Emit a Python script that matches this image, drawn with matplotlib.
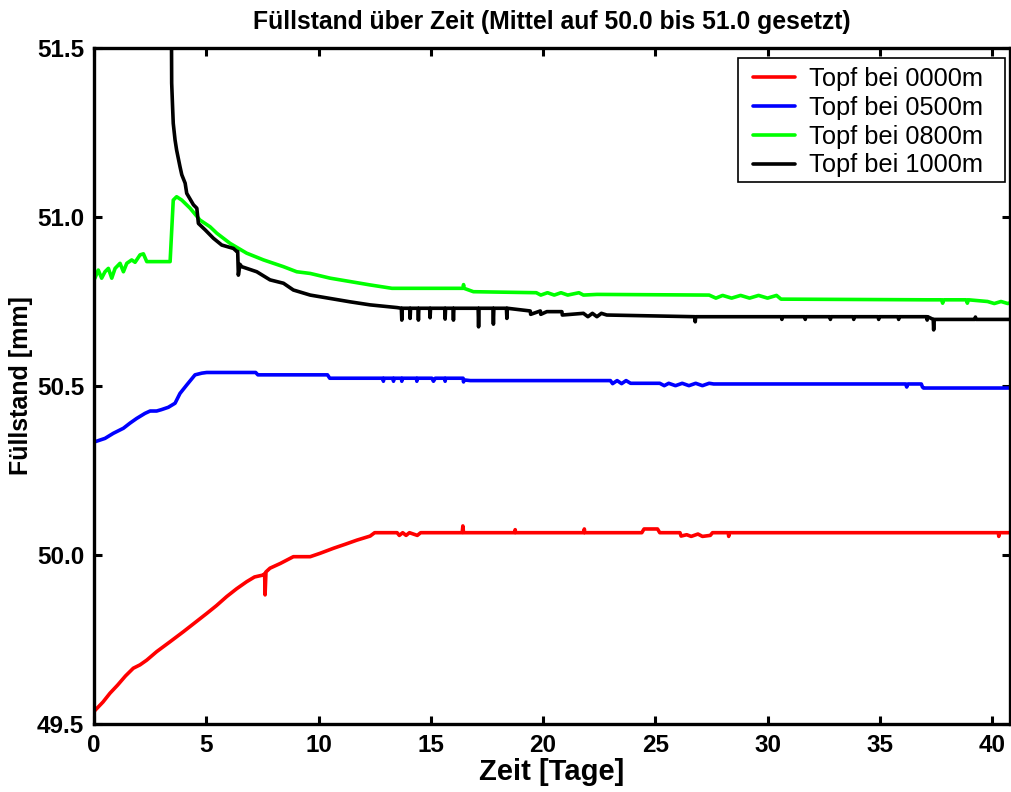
import numpy as np
import matplotlib
matplotlib.use('Agg')
import matplotlib.pyplot as plt
from matplotlib.patches import Rectangle

plt.rcParams['font.family'] = ['Liberation Sans', 'DejaVu Sans']

# Topf bei 0000m
red_x = [0.00, 0.04, 0.40, 0.71, 1.05, 1.40, 1.75, 2.05, 2.35, 2.79, 3.40, 3.98, 4.50, 5.02,
         5.45, 5.91, 6.35, 6.80, 7.15, 7.55, 7.60, 7.62, 7.66, 7.84, 8.30, 8.88, 9.63, 10.07,
         10.67, 11.20, 11.71, 12.30, 12.50, 13.50, 13.60, 13.75, 13.90, 14.05, 14.40, 14.55,
         16.40, 16.43, 16.46, 18.74, 18.76, 18.78, 21.82, 21.84, 21.86, 24.40, 24.50, 25.10,
         25.20, 26.10, 26.15, 26.40, 26.60, 26.90, 27.10, 27.45, 27.55, 28.25, 28.27, 28.30,
         40.28, 40.30, 40.33, 41.00]
red_y = [49.535, 49.540, 49.565, 49.591, 49.615, 49.642, 49.665, 49.675, 49.689, 49.714,
         49.744, 49.773, 49.800, 49.827, 49.850, 49.877, 49.900, 49.921, 49.935, 49.941,
         49.945, 49.882, 49.950, 49.961, 49.975, 49.995, 49.995, 50.005, 50.020, 50.032,
         50.044, 50.056, 50.066, 50.066, 50.058, 50.066, 50.058, 50.066, 50.058, 50.066,
         50.066, 50.086, 50.066, 50.066, 50.075, 50.066, 50.066, 50.077, 50.066, 50.066,
         50.077, 50.077, 50.066, 50.066, 50.056, 50.060, 50.055, 50.062, 50.055, 50.058,
         50.066, 50.066, 50.055, 50.066, 50.066, 50.055, 50.066, 50.066]

# Topf bei 0500m
blue_x = [0.00, 0.04, 0.49, 0.86, 1.31, 1.60, 1.90, 2.27, 2.50, 2.79, 3.00, 3.31, 3.61,
          3.83, 4.13, 4.50, 4.80, 5.02, 7.20, 7.30, 10.40, 10.50, 12.87, 12.89, 12.91,
          13.32, 13.34, 13.36, 13.69, 13.71, 13.73, 14.36, 14.38, 14.40, 15.05, 15.12,
          15.20, 15.62, 15.64, 15.66, 16.44, 16.46, 16.48, 16.76, 23.00, 23.10, 23.30,
          23.50, 23.70, 23.90, 25.20, 25.40, 25.60, 25.90, 26.20, 26.50, 26.80, 27.10,
          27.40, 27.60, 36.15, 36.20, 36.25, 36.85, 36.90, 36.95, 41.00]
blue_y = [50.333, 50.335, 50.345, 50.360, 50.375, 50.390, 50.404, 50.419, 50.426, 50.426,
          50.430, 50.437, 50.449, 50.478, 50.503, 50.533, 50.538, 50.540, 50.540, 50.533,
          50.533, 50.523, 50.523, 50.514, 50.523, 50.523, 50.514, 50.523, 50.523, 50.514,
          50.523, 50.523, 50.514, 50.523, 50.523, 50.514, 50.523, 50.523, 50.514, 50.523,
          50.523, 50.512, 50.518, 50.516, 50.516, 50.507, 50.516, 50.507, 50.516, 50.508,
          50.508, 50.501, 50.508, 50.501, 50.508, 50.501, 50.508, 50.501, 50.508, 50.506,
          50.506, 50.497, 50.506, 50.506, 50.497, 50.494, 50.494]

# Topf bei 0800m
green_x = [0.00, 0.04, 0.19, 0.34, 0.49, 0.64, 0.79, 0.94, 1.16, 1.31, 1.46, 1.68, 1.83,
           2.05, 2.20, 2.35, 3.39, 3.53, 3.68, 3.91, 4.28, 4.72, 5.17, 5.47, 6.06, 6.80,
           7.55, 8.44, 9.03, 9.63, 10.52, 11.41, 12.30, 13.27, 16.44, 16.46, 16.48, 16.90,
           19.70, 19.90, 20.20, 20.50, 20.80, 21.10, 21.60, 21.80, 22.40, 27.40, 27.70,
           28.00, 28.40, 28.80, 29.20, 29.60, 30.00, 30.40, 30.60, 37.10, 37.75, 37.80,
           37.85, 38.85, 38.90, 38.95, 39.80, 40.10, 40.40, 40.70, 41.00]
green_y = [50.815, 50.819, 50.843, 50.819, 50.838, 50.848, 50.819, 50.848, 50.863, 50.838,
           50.863, 50.873, 50.866, 50.888, 50.891, 50.868, 50.868, 51.050, 51.060, 51.050,
           51.026, 50.991, 50.971, 50.952, 50.922, 50.893, 50.873, 50.853, 50.838, 50.833,
           50.819, 50.809, 50.799, 50.789, 50.789, 50.800, 50.789, 50.779, 50.776, 50.769,
           50.776, 50.769, 50.776, 50.769, 50.776, 50.769, 50.771, 50.769, 50.760, 50.768,
           50.760, 50.768, 50.760, 50.768, 50.760, 50.768, 50.757, 50.755, 50.755, 50.745,
           50.755, 50.755, 50.745, 50.755, 50.750, 50.744, 50.750, 50.744, 50.750]

# Topf bei 1000m
black_x = [3.40, 3.44, 3.46, 3.50, 3.53, 3.61, 3.68, 3.83, 3.91, 4.06, 4.13, 4.43, 4.58,
           4.65, 4.95, 5.32, 5.69, 6.21, 6.36, 6.40, 6.43, 6.50, 6.58, 7.25, 7.84, 8.44,
           8.88, 9.63, 10.52, 11.41, 12.30, 13.50, 13.69, 13.71, 13.73, 14.06, 14.08,
           14.10, 14.43, 14.45, 14.47, 14.95, 14.97, 14.99, 15.62, 15.64, 15.66, 15.99,
           16.01, 16.03, 17.11, 17.13, 17.15, 17.77, 17.79, 17.81, 18.37, 18.39, 18.41,
           19.43, 19.45, 19.88, 19.90, 20.17, 20.84, 20.86, 21.80, 22.00, 22.20, 22.40,
           22.60, 22.84, 26.76, 26.78, 26.80, 30.62, 30.64, 30.66, 31.66, 31.68, 31.70,
           32.78, 32.80, 32.82, 33.82, 33.84, 33.86, 34.93, 34.95, 34.97, 35.82, 35.84,
           35.86, 37.09, 37.11, 37.13, 37.38, 37.40, 37.42, 39.24, 39.26, 39.28, 41.00]
black_y = [53.000, 51.700, 51.396, 51.326, 51.277, 51.228, 51.198, 51.149, 51.125, 51.100,
           51.070, 51.036, 51.026, 50.981, 50.962, 50.937, 50.917, 50.907, 50.898, 50.898,
           50.828, 50.860, 50.853, 50.838, 50.814, 50.804, 50.784, 50.769, 50.759, 50.749,
           50.740, 50.732, 50.730, 50.695, 50.730, 50.730, 50.700, 50.730, 50.730, 50.695,
           50.730, 50.730, 50.702, 50.730, 50.730, 50.698, 50.730, 50.730, 50.695, 50.730,
           50.730, 50.675, 50.730, 50.730, 50.683, 50.730, 50.730, 50.700, 50.730, 50.722,
           50.712, 50.722, 50.712, 50.720, 50.720, 50.710, 50.715, 50.705, 50.715, 50.705,
           50.715, 50.710, 50.705, 50.690, 50.705, 50.705, 50.697, 50.705, 50.705, 50.697,
           50.705, 50.705, 50.697, 50.705, 50.705, 50.697, 50.705, 50.705, 50.697, 50.705,
           50.705, 50.697, 50.705, 50.705, 50.695, 50.705, 50.697, 50.666, 50.697, 50.697,
           50.704, 50.697, 50.697]

series = [
    (red_x, red_y, '#ff0000', 'Topf bei 0000m'),
    (blue_x, blue_y, '#0000ff', 'Topf bei 0500m'),
    (green_x, green_y, '#00ff00', 'Topf bei 0800m'),
    (black_x, black_y, '#000000', 'Topf bei 1000m'),
]

W, H = 1011, 792
fig = plt.figure(figsize=(W / 100, H / 100), dpi=100)
ax = fig.add_axes([94 / W, 1 - 724 / H, (1010 - 94) / W, (724 - 48) / H])

for xs, ys, col, lab in series:
    ax.plot(xs, ys, color=col, lw=2.6, label=lab,
            solid_joinstyle='round', solid_capstyle='round')

ax.set_xlim(0, 40.8)
ax.set_ylim(49.5, 51.5)
ax.set_xticks(np.arange(0, 41, 5))
ax.set_yticks([49.5, 50.0, 50.5, 51.0, 51.5])
ax.set_yticklabels(['49.5', '50.0', '50.5', '51.0', '51.5'])

for sp in ax.spines.values():
    sp.set_linewidth(2.4)
ax.tick_params(direction='in', length=6, width=2.2, top=True, right=True,
               labelsize=17.5, pad=7)
for lbl in ax.get_xticklabels() + ax.get_yticklabels():
    lbl.set_fontweight('bold')

ax.set_title('Füllstand über Zeit (Mittel auf 50.0 bis 51.0 gesetzt)',
             fontsize=17.8, fontweight='bold', pad=14)
ax.set_xlabel('Zeit [Tage]', fontsize=21, fontweight='bold', labelpad=1)
ax.set_ylabel('Füllstand [mm]', fontsize=18, fontweight='bold', labelpad=3)

# legend box drawn separately so the padding can be wider on the right
box = Rectangle((738 / W, 1 - 182 / H), (1005 - 738) / W, (182 - 58) / H,
                transform=fig.transFigure, facecolor='white', edgecolor='black',
                lw=1.2, zorder=4, clip_on=False)
ax.add_patch(box)
leg = ax.legend(loc='upper left', bbox_to_anchor=(753 / W, 1 - 67 / H),
                bbox_transform=fig.transFigure, borderaxespad=0, borderpad=0,
                fontsize=18.3, frameon=False, handlelength=1.65,
                handletextpad=0.55, labelspacing=0.19)
leg.set_zorder(5)

fig.savefig('out.png', dpi=100)
